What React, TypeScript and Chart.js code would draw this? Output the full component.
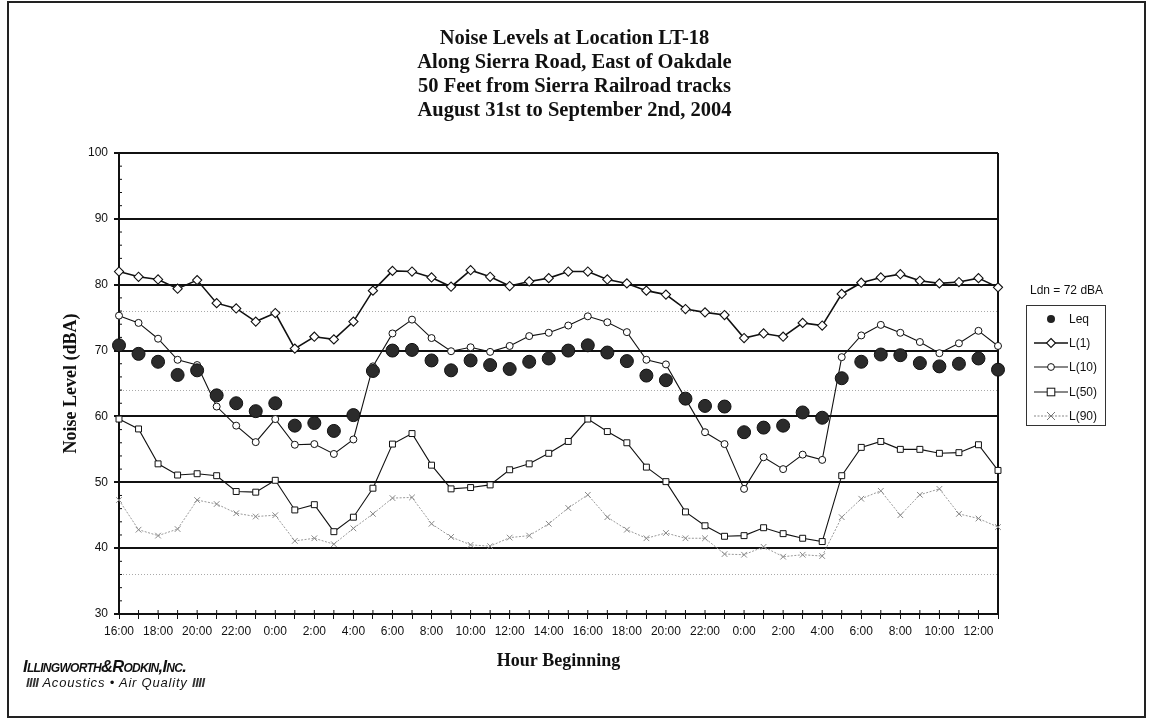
import React, { useEffect, useRef } from 'react';
import { Chart, registerables } from 'chart.js';

Chart.register(...registerables);

// ---------- DATA ----------
const hours = [
  '16:00', '17:00', '18:00', '19:00', '20:00', '21:00', '22:00', '23:00',
  '0:00', '1:00', '2:00', '3:00', '4:00', '5:00', '6:00', '7:00', '8:00', '9:00', '10:00', '11:00',
  '12:00', '13:00', '14:00', '15:00', '16:00', '17:00', '18:00', '19:00', '20:00', '21:00', '22:00', '23:00',
  '0:00', '1:00', '2:00', '3:00', '4:00', '5:00', '6:00', '7:00', '8:00', '9:00', '10:00', '11:00',
  '12:00', '13:00',
];

const leq = [
  70.8, 69.5, 68.3, 66.3, 67.0, 63.2, 62.0, 60.8, 62.0, 58.6, 59.0, 57.8, 60.2, 66.9, 70.0, 70.1,
  68.5, 67.0, 68.5, 67.8, 67.2, 68.3, 68.8, 70.0, 70.8, 69.7, 68.4, 66.2, 65.5, 62.7, 61.6, 61.5,
  57.6, 58.3, 58.6, 60.6, 59.8, 65.8, 68.3, 69.4, 69.3, 68.1, 67.6, 68.0, 68.8, 67.1,
];

const l1 = [
  82.0, 81.2, 80.8, 79.4, 80.7, 77.2, 76.4, 74.4, 75.7, 70.3, 72.1, 71.7, 74.4, 79.1, 82.1, 82.0,
  81.1, 79.7, 82.2, 81.2, 79.8, 80.5, 81.0, 82.0, 82.0, 80.8, 80.2, 79.1, 78.5, 76.3, 75.8, 75.4,
  71.9, 72.6, 72.1, 74.2, 73.8, 78.6, 80.3, 81.1, 81.6, 80.6, 80.2, 80.4, 81.0, 79.6,
];

const l10 = [
  75.3, 74.2, 71.8, 68.6, 67.8, 61.5, 58.6, 56.1, 59.6, 55.7, 55.8, 54.3, 56.5, 67.6, 72.6, 74.7,
  71.9, 69.9, 70.5, 69.8, 70.7, 72.2, 72.7, 73.8, 75.2, 74.3, 72.8, 68.6, 67.9, 62.7, 57.6, 55.8,
  49.0, 53.8, 52.0, 54.2, 53.4, 69.0, 72.3, 73.9, 72.7, 71.3, 69.6, 71.1, 73.0, 70.7,
];

const l50 = [
  59.6, 58.1, 52.8, 51.1, 51.3, 51.0, 48.6, 48.5, 50.3, 45.8, 46.6, 42.5, 44.7, 49.1, 55.8, 57.4,
  52.6, 49.0, 49.2, 49.6, 51.9, 52.8, 54.4, 56.2, 59.6, 57.7, 56.0, 52.3, 50.1, 45.5, 43.4, 41.8,
  41.9, 43.1, 42.2, 41.5, 41.0, 51.0, 55.3, 56.2, 55.0, 55.0, 54.4, 54.5, 55.7, 51.8,
];

const l90 = [
  47.3, 42.8, 41.9, 42.9, 47.3, 46.7, 45.3, 44.8, 45.0, 41.1, 41.5, 40.6, 43.0, 45.2, 47.6, 47.7,
  43.7, 41.7, 40.5, 40.3, 41.6, 41.9, 43.7, 46.1, 48.1, 44.7, 42.8, 41.5, 42.3, 41.5, 41.5, 39.1,
  39.0, 40.2, 38.7, 39.0, 38.8, 44.7, 47.5, 48.7, 45.0, 48.1, 49.0, 45.2, 44.5, 43.2,
];

const titleLines = [
  'Noise Levels at Location LT-18',
  'Along Sierra Road, East of Oakdale',
  '50 Feet from Sierra Railroad tracks',
  'August 31st to September 2nd, 2004',
];

const yMin = 30;
const yMax = 100;
const dottedLevels = [36, 64, 76];
const ldnText = 'Ldn = 72 dBA';
const legendLabels = ['Leq', 'L(1)', 'L(10)', 'L(50)', 'L(90)'];

const SANS = '"Liberation Sans", Arial, sans-serif';
const SERIF = '"Liberation Serif", "Times New Roman", serif';

const framePlugin = {
  id: 'frame',
  beforeDatasetsDraw(chart: any) {
    const { ctx, chartArea } = chart;
    const { left, top, right, bottom } = chartArea;
    ctx.save();
    ctx.strokeStyle = '#111';
    ctx.lineWidth = 2;
    ctx.beginPath();
    ctx.moveTo(right, top);
    ctx.lineTo(right, bottom);
    ctx.stroke();
    // inward tick marks on x axis
    ctx.lineWidth = 1;
    const xs = chart.scales.x;
    for (let i = 0; i < hours.length; i++) {
      const px = xs.getPixelForTick(i);
      ctx.beginPath();
      ctx.moveTo(px, bottom);
      ctx.lineTo(px, bottom - 4);
      ctx.stroke();
    }
    // inward minor ticks on y axis
    const ys = chart.scales.y;
    for (let v = yMin; v <= yMax; v += 2) {
      if (v % 10 === 0) continue;
      const py = ys.getPixelForValue(v);
      ctx.beginPath();
      ctx.moveTo(left, py);
      ctx.lineTo(left + 3, py);
      ctx.stroke();
    }
    ctx.restore();
  },
};

function LegendSymbol({ kind }: { kind: number }) {
  const w = 34;
  const h = 12;
  const cx = 17;
  const cy = 6;
  const line = (color: string, dash?: string, width = 1.2) => (
    <line x1={0} y1={cy} x2={w} y2={cy} stroke={color} strokeWidth={width} strokeDasharray={dash} />
  );
  let content: any = null;
  if (kind === 0) {
    content = <circle cx={cx} cy={cy} r={4} fill="#222" />;
  } else if (kind === 1) {
    content = (
      <>
        {line('#111', undefined, 1.5)}
        <polygon points={`${cx},${cy - 4.5} ${cx + 4.5},${cy} ${cx},${cy + 4.5} ${cx - 4.5},${cy}`} fill="#fff" stroke="#111" strokeWidth={1.1} />
      </>
    );
  } else if (kind === 2) {
    content = (
      <>
        {line('#111')}
        <circle cx={cx} cy={cy} r={3.4} fill="#fff" stroke="#111" strokeWidth={1} />
      </>
    );
  } else if (kind === 3) {
    content = (
      <>
        {line('#111')}
        <rect x={cx - 3.8} y={cy - 3.8} width={7.6} height={7.6} fill="#fff" stroke="#111" strokeWidth={1} />
      </>
    );
  } else {
    content = (
      <>
        {line('#888', '2,1.5')}
        <line x1={cx - 4} y1={cy - 4} x2={cx + 4} y2={cy + 4} stroke="#777" strokeWidth={1} />
        <line x1={cx - 4} y1={cy + 4} x2={cx + 4} y2={cy - 4} stroke="#777" strokeWidth={1} />
      </>
    );
  }
  return (
    <svg width={w} height={h} style={{ display: 'block' }}>
      {content}
    </svg>
  );
}

export default function App() {
  const canvasRef = useRef<HTMLCanvasElement | null>(null);

  useEffect(() => {
    if (!canvasRef.current) return;
    const chart = new Chart(canvasRef.current, {
      type: 'line',
      data: {
        labels: hours,
        datasets: [
          {
            label: legendLabels[0],
            data: leq,
            showLine: false,
            pointStyle: 'circle',
            pointRadius: 6.5,
            pointBackgroundColor: '#2b2b2b',
            pointBorderColor: '#111',
            pointBorderWidth: 1,
            borderColor: '#111',
          },
          {
            label: legendLabels[1],
            data: l1,
            borderColor: '#111',
            borderWidth: 1.6,
            pointStyle: 'rectRot',
            pointRadius: 4.6,
            pointBackgroundColor: '#fff',
            pointBorderColor: '#111',
            pointBorderWidth: 1.1,
            tension: 0,
          },
          {
            label: legendLabels[2],
            data: l10,
            borderColor: '#111',
            borderWidth: 1.1,
            pointStyle: 'circle',
            pointRadius: 3.5,
            pointBackgroundColor: '#fff',
            pointBorderColor: '#111',
            pointBorderWidth: 1,
            tension: 0,
          },
          {
            label: legendLabels[3],
            data: l50,
            borderColor: '#111',
            borderWidth: 1.1,
            pointStyle: 'rect',
            pointRadius: 4.2,
            pointBackgroundColor: '#fff',
            pointBorderColor: '#111',
            pointBorderWidth: 1,
            tension: 0,
          },
          {
            label: legendLabels[4],
            data: l90,
            borderColor: '#999',
            borderWidth: 1,
            borderDash: [2, 1.5],
            pointStyle: 'crossRot',
            pointRadius: 4,
            pointBackgroundColor: '#888',
            pointBorderColor: '#888',
            pointBorderWidth: 1,
            tension: 0,
          },
        ],
      },
      options: {
        responsive: false,
        animation: false,
        events: [],
        layout: { padding: { left: 58, top: 153, right: 151, bottom: 47 } },
        plugins: {
          legend: { display: false },
          tooltip: { enabled: false },
          title: { display: false },
        },
        scales: {
          x: {
            type: 'category',
            offset: false,
            grid: {
              drawOnChartArea: false,
              drawTicks: true,
              tickLength: 5,
              tickColor: '#111',
              tickWidth: 1,
            },
            border: { color: '#111', width: 2 },
            ticks: {
              autoSkip: false,
              maxRotation: 0,
              minRotation: 0,
              padding: 5,
              color: '#111',
              font: { family: SANS, size: 12 },
              callback: (_v: any, i: number) => (i % 2 === 0 ? hours[i] : ''),
            },
            title: {
              display: true,
              text: 'Hour Beginning',
              color: '#111',
              font: { family: SERIF, size: 18, weight: 'bold' },
              padding: { top: 0, bottom: 2 },
            },
            afterFit: (s: any) => {
              s.height = 60;
            },
          },
          y: {
            min: yMin,
            max: yMax,
            ticks: {
              stepSize: 2,
              autoSkip: false,
              padding: 6,
              color: '#111',
              font: { family: SANS, size: 12 },
              callback: (v: any) => (Number(v) % 10 === 0 ? String(v) : ''),
            },
            grid: {
              color: (c: any) => {
                const v = c.tick ? c.tick.value : null;
                if (v === null) return 'rgba(0,0,0,0)';
                if (v % 10 === 0) return '#111';
                if (dottedLevels.includes(v)) return '#aaa';
                return 'rgba(0,0,0,0)';
              },
              lineWidth: (c: any) => {
                const v = c.tick ? c.tick.value : null;
                if (v !== null && v % 10 === 0) return 2;
                return 1;
              },
              tickColor: (c: any) => {
                const v = c.tick ? c.tick.value : null;
                return v !== null && v % 10 === 0 ? '#111' : 'rgba(0,0,0,0)';
              },
              tickLength: 5,
              drawTicks: true,
            },
            border: {
              color: '#111',
              width: 2,
              dash: (c: any) => (c.tick && dottedLevels.includes(c.tick.value) ? [1, 2] : []),
            },
            title: {
              display: true,
              text: 'Noise Level (dBA)',
              color: '#111',
              font: { family: SERIF, size: 18, weight: 'bold' },
              padding: { top: 3, bottom: 0 },
            },
            afterFit: (s: any) => {
              s.width = 61;
            },
          },
        },
      } as any,
      plugins: [framePlugin],
    });
    return () => chart.destroy();
  }, []);

  return (
    <div style={{ position: 'fixed', left: 0, top: 0, width: 1149, height: 721, background: '#fff', overflow: 'hidden' }}>
      <canvas ref={canvasRef} width={1149} height={721} style={{ position: 'absolute', left: 0, top: 0 }} />
      <div
        style={{
          position: 'absolute', left: 7, top: 1, width: 1139, height: 717,
          border: '2px solid #222', boxSizing: 'border-box', pointerEvents: 'none',
        }}
      />
      <div
        style={{
          position: 'absolute', left: 0, width: 1149, top: 25, textAlign: 'center',
          fontFamily: SERIF, fontWeight: 'bold', fontSize: 20.5, lineHeight: '24px', color: '#111',
        }}
      >
        {titleLines.map((t, i) => (
          <div key={i}>{t}</div>
        ))}
      </div>
      <div
        style={{
          position: 'absolute', left: 1030, width: 110, top: 283, fontFamily: SANS, fontSize: 12, color: '#111',
          textAlign: 'left', whiteSpace: 'nowrap',
        }}
      >
        {ldnText}
      </div>
      <div
        style={{
          position: 'absolute', left: 1026, top: 305, width: 80, height: 121,
          border: '1px solid #333', boxSizing: 'border-box', background: '#fff', paddingTop: 1,
        }}
      >
        {legendLabels.map((lab, i) => (
          <div key={lab} style={{ display: 'flex', alignItems: 'center', height: 24.2 }}>
            <div style={{ marginLeft: 7 }}>
              <LegendSymbol kind={i} />
            </div>
            <span style={{ fontFamily: SANS, fontSize: 12, color: '#111', marginLeft: 1 }}>{lab}</span>
          </div>
        ))}
      </div>
      <div style={{ position: 'absolute', left: 23, top: 657, color: '#111' }}>
        <div
          style={{
            fontFamily: SANS, fontWeight: 'bold', fontStyle: 'italic', fontSize: 16.5,
            fontVariant: 'small-caps', letterSpacing: -0.7, lineHeight: '19px', whiteSpace: 'nowrap',
          }}
        >
          Illingworth&amp;Rodkin,Inc.
        </div>
        <div
          style={{
            fontFamily: SANS, fontStyle: 'italic', fontSize: 13, lineHeight: '14px', letterSpacing: 0.8,
            whiteSpace: 'nowrap', marginLeft: 3,
          }}
        >
          <span style={{ fontWeight: 'bold', letterSpacing: -0.5, color: '#333' }}>IIII</span> Acoustics • Air Quality{' '}
          <span style={{ fontWeight: 'bold', letterSpacing: -0.5, color: '#333' }}>IIII</span>
        </div>
      </div>
    </div>
  );
}
